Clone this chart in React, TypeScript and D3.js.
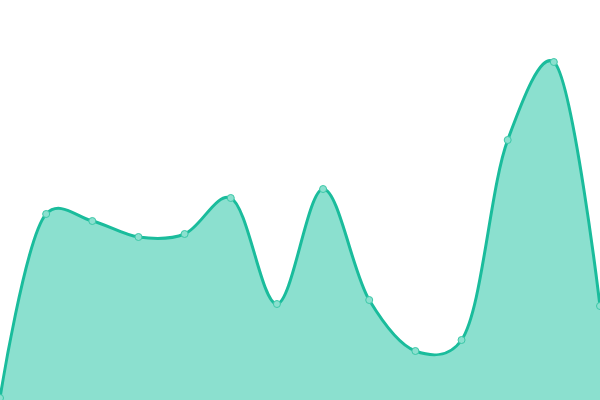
import React, { useEffect, useRef } from "react";
import * as d3 from "d3";

// heights, on a 0..400 scale
const indexes = [0, 1, 2, 3, 4, 5, 6, 7, 8, 9, 10, 11, 12, 13];
const values = [2, 186, 179, 163, 166, 202, 96, 211, 100, 49, 60, 260, 338, 94];

const width = 600;
const height = 400;

function renderChart(node: SVGSVGElement) {
  const svg = d3.select(node);
  svg.selectAll("*").remove();

  const x = d3.scaleLinear().domain([0, indexes.length - 1]).range([0, width]);
  const y = d3.scaleLinear().domain([0, 400]).range([height, 0]);

  const data = indexes.map((i) => ({ i, v: values[i] }));
  const curve = d3.curveCatmullRom.alpha(0.3);

  const area = d3
    .area<{ i: number; v: number }>()
    .x((d) => x(d.i))
    .y0(height)
    .y1((d) => y(d.v))
    .curve(curve);

  const line = d3
    .line<{ i: number; v: number }>()
    .x((d) => x(d.i))
    .y((d) => y(d.v))
    .curve(curve);

  svg.append("path").datum(data).attr("d", area).attr("fill", "#8be0cf");

  svg
    .append("path")
    .datum(data)
    .attr("d", line)
    .attr("fill", "none")
    .attr("stroke", "#1abc9c")
    .attr("stroke-width", 3);

  svg
    .selectAll("circle")
    .data(data)
    .enter()
    .append("circle")
    .attr("cx", (d) => x(d.i))
    .attr("cy", (d) => y(d.v))
    .attr("r", 3.5)
    .attr("fill", "#8be0cf")
    .attr("stroke", "#3cc8a8")
    .attr("stroke-width", 1);
}

const App: React.FC = () => {
  const ref = useRef<SVGSVGElement>(null);
  useEffect(() => {
    document.body.style.margin = "0";
    if (ref.current) renderChart(ref.current);
  }, []);
  return <svg ref={ref} width={width} height={height} style={{ display: "block" }} />;
};

export default App;
